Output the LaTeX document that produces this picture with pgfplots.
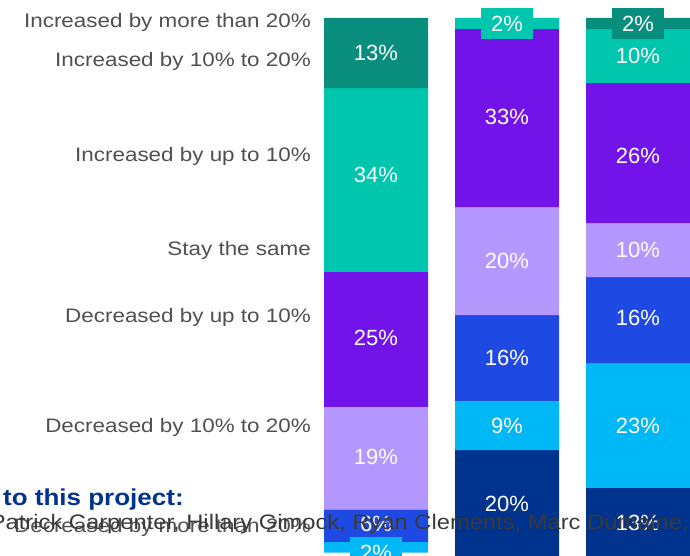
\documentclass[border=0pt]{standalone}
\usepackage{fontspec}
\setmainfont{Liberation Sans}
\newfontfamily\labfont{Liberation Sans}[FakeStretch=1.15]
\newfontfamily\namfont{Liberation Sans}[FakeStretch=1.13]
\usepackage{pgfplots}
\usepackage{pgfplotstable}
\pgfplotsset{compat=1.18}
\definecolor{cDT}{HTML}{098E7E}
\definecolor{cT}{HTML}{00C6AE}
\definecolor{cP}{HTML}{7213EA}
\definecolor{cLP}{HTML}{B497FF}
\definecolor{cB}{HTML}{1E49E2}
\definecolor{cLB}{HTML}{00B8F5}
\definecolor{cN}{HTML}{00338D}
\definecolor{labgray}{HTML}{505050}
\definecolor{namgray}{HTML}{3A3A3A}
% columns: increased >20, increased 10-20, increased up to 10, same,
% decreased up to 10, decreased 10-20, decreased >20
\pgfplotstableread{
x a b c d e f g
376 13 34 25 19 6 2 0
507 0 2 33 20 16 9 20
638 2 10 26 10 16 23 13
}\datatab
\newcommand{\pl}[3]{\node[font=\fontsize{22}{22}\selectfont, text=white, inner sep=0pt] at (axis cs:#1,#2) {#3};}
\newcommand{\pb}[4]{\node[font=\fontsize{22}{22}\selectfont, text=white, fill=#4, minimum width=52pt, minimum height=31pt, inner sep=0pt] at (axis cs:#1,#2) {#3};}
\newcommand{\lab}[2]{\node[font=\labfont\fontsize{19.5}{20}\selectfont, text=labgray, anchor=base east, inner sep=0pt] at (axis cs:311,#1) {#2};}
\newcommand{\alltexts}{%
% bar 1
\pl{376}{6.5}{13\%}
\pl{376}{29.1}{34\%}
\pl{376}{59.2}{25\%}
\pl{376}{81.3}{19\%}
\pl{376}{93.7}{6\%}
\pb{376}{99}{2\%}{cLB}
% bar 2
\pb{507}{1}{2\%}{cT}
\pl{507}{18.3}{33\%}
\pl{507}{45}{20\%}
\pl{507}{63}{16\%}
\pl{507}{75.5}{9\%}
\pl{507}{90}{20\%}
% bar 3
\pb{638}{1}{2\%}{cDT}
\pl{638}{7}{10\%}
\pl{638}{25.5}{26\%}
\pl{638}{43}{10\%}
\pl{638}{55.5}{16\%}
\pl{638}{75.5}{23\%}
\pl{638}{93.5}{13\%}
% category labels
\lab{1.85}{Increased by more than 20\%}
\lab{9.07}{Increased by 10\% to 20\%}
\lab{26.5}{Increased by up to 10\%}
\lab{44.0}{Stay the same}
\lab{56.48}{Decreased by up to 10\%}
\lab{76.85}{Decreased by 10\% to 20\%}
\lab{95.19}{Decreased by more than 20\%}
% overlapping page text
\node[font=\namfont\bfseries\fontsize{23}{24}\selectfont, text=cN, anchor=base west, inner sep=0pt] at (axis cs:3,90.19) {to this project:};
\node[font=\namfont\fontsize{21}{22}\selectfont, text=namgray, anchor=base east, inner sep=0pt] at (axis cs:689,94.81) {Patrick Carpenter, Hillary Gimock, Ryan Clements, Marc Dumaine,};
}
\begin{document}
\begin{tikzpicture}
\useasboundingbox (0,0) rectangle (690pt,556pt);
\clip (0,0) rectangle (690pt,556pt);
\begin{axis}[hide axis, scale only axis, width=690pt, height=556pt,
  xmin=0, xmax=690, ymin=-3.33333, ymax=99.62963, y dir=reverse,
  ybar stacked, bar width=104, clip=false,
  after end axis/.code={\alltexts}]
\addplot[fill=cDT, draw=none] table[x=x,y=a]{\datatab};
\addplot[fill=cT, draw=none] table[x=x,y=b]{\datatab};
\addplot[fill=cP, draw=none] table[x=x,y=c]{\datatab};
\addplot[fill=cLP, draw=none] table[x=x,y=d]{\datatab};
\addplot[fill=cB, draw=none] table[x=x,y=e]{\datatab};
\addplot[fill=cLB, draw=none] table[x=x,y=f]{\datatab};
\addplot[fill=cN, draw=none] table[x=x,y=g]{\datatab};
\end{axis}
\end{tikzpicture}
\end{document}
